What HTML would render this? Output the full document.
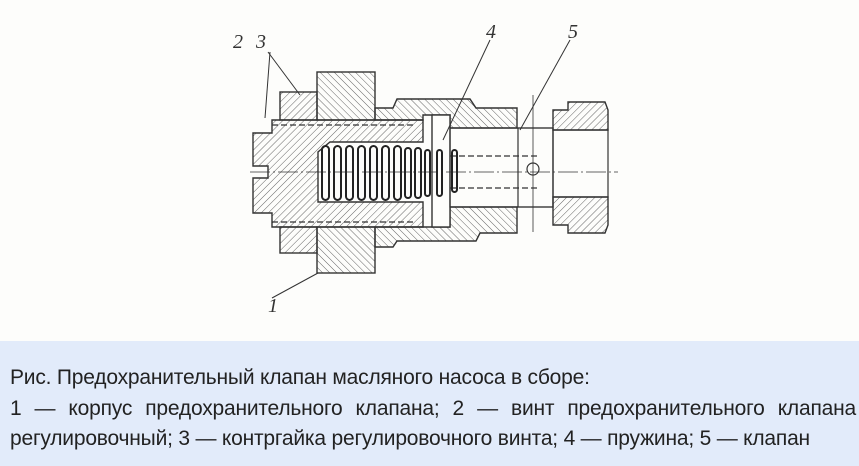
<!DOCTYPE html>
<html><head><meta charset="utf-8"><style>
html,body{margin:0;padding:0;width:859px;height:466px;overflow:hidden;background:#fdfdfb}
#fig{position:absolute;left:0;top:0}
#cap{position:absolute;left:0;top:341px;width:859px;height:125px;background:#e2ebfa;}
#cap p{margin:0;position:absolute;left:10px;font-family:"Liberation Sans",sans-serif;font-size:21px;color:#222;white-space:nowrap;line-height:24px;letter-spacing:-0.2px}
#l2{width:846px;text-align:justify;text-align-last:justify;white-space:normal!important}
</style></head><body>
<svg id="fig" width="859" height="341" viewBox="0 0 859 341">
<defs>
<pattern id="h" width="5" height="5" patternUnits="userSpaceOnUse" patternTransform="rotate(45)"><line x1="0" y1="0" x2="0" y2="5" stroke="#666" stroke-width="1"/></pattern>
<pattern id="h2" width="5" height="5" patternUnits="userSpaceOnUse" patternTransform="rotate(-45)"><line x1="0" y1="0" x2="0" y2="5" stroke="#666" stroke-width="1"/></pattern>
</defs>
<g stroke="#333" stroke-width="1.4" fill="url(#h)">
<rect x="280" y="92" width="37" height="28"/>
<rect x="280" y="227" width="37" height="26"/>
<rect x="317" y="72" width="58" height="48" fill="url(#h2)"/>
<rect x="317" y="227" width="58" height="46" fill="url(#h2)"/>
<path d="M375 108 L393 108 L397 99 L470 99 L476 108 L517 108 L517 128 L450 128 L450 115 L423 115 L423 120 L375 120Z" fill="url(#h2)"/>
<path d="M375 227 L423 227 L450 227 L450 207 L517 207 L517 233 L480 233 L476 241 L397 241 L393 247 L375 247Z" fill="url(#h2)"/>
<path d="M553 110 L568 110 L568 102 L605 102 L608 110 L608 130 L553 130Z" fill="url(#h)"/>
<path d="M553 197 L608 197 L608 225 L605 233 L568 233 L568 225 L553 225Z" fill="url(#h)"/>
<path d="M253 133 L272 133 L272 120 L423 120 L423 142 L330 142 L318 152 L318 202 L423 202 L423 227 L272 227 L272 213 L253 213 L253 178 L268 178 L268 166 L253 166Z" fill="url(#h)"/>
<rect x="432" y="115" width="18" height="112" fill="#fdfdfb"/>
</g>
<g stroke="#333" stroke-width="1.2" fill="none">
<rect x="450" y="128" width="103" height="79"/>
<rect x="518" y="128" width="35" height="79"/>
<rect x="553" y="130" width="55" height="67"/>
<line x1="272" y1="125" x2="415" y2="125" stroke-dasharray="6 3"/>
<line x1="272" y1="222" x2="415" y2="222" stroke-dasharray="6 3"/>
<line x1="450" y1="156" x2="540" y2="156" stroke-dasharray="6 3"/>
<line x1="450" y1="188" x2="540" y2="188" stroke-dasharray="6 3"/>
<line x1="250" y1="172" x2="618" y2="172" stroke-width="0.8" stroke-dasharray="20 3 2 3"/>
<line x1="533" y1="95" x2="533" y2="232" stroke-width="0.8"/>
<circle cx="533" cy="169" r="6"/>
<line x1="270" y1="52" x2="265" y2="118" stroke-width="1"/>
<line x1="268" y1="52" x2="300" y2="95" stroke-width="1"/>
<line x1="490" y1="40" x2="443" y2="140" stroke-width="1"/>
<line x1="570" y1="40" x2="520" y2="130" stroke-width="1"/>
<line x1="272" y1="298" x2="318" y2="273" stroke-width="1"/>
</g>
<g stroke="#222" stroke-width="2" fill="none">
<rect x="322" y="146" width="7" height="54" rx="3.5"/><rect x="334" y="146" width="7" height="54" rx="3.5"/>
<rect x="346" y="146" width="7" height="54" rx="3.5"/><rect x="358" y="146" width="7" height="54" rx="3.5"/>
<rect x="370" y="146" width="7" height="54" rx="3.5"/><rect x="382" y="146" width="7" height="54" rx="3.5"/>
<rect x="394" y="146" width="7" height="54" rx="3.5"/><rect x="405" y="148" width="6" height="50" rx="3"/>
<rect x="415" y="148" width="6" height="50" rx="3"/><rect x="425" y="150" width="5" height="46" rx="2.5"/>
<rect x="437" y="150" width="5" height="46" rx="2.5"/><rect x="452" y="150" width="5" height="42" rx="2.5"/>
</g>
<g font-family="Liberation Serif,serif" font-style="italic" font-size="20" fill="#333">
<text x="233" y="48">2</text><text x="256" y="48">3</text>
<text x="486" y="38">4</text><text x="568" y="38">5</text>
<text x="268" y="312">1</text>
</g>
</svg>
<div id="cap">
<p style="top:25px">Рис. Предохранительный клапан масляного насоса в сборе:</p>
<p id="l2" style="top:56px">1 — корпус предохранительного клапана; 2 — винт предохранительного клапана</p>
<p style="top:86px">регулировочный; 3 — контргайка регулировочного винта; 4 — пружина; 5 — клапан</p>
</div>
</body></html>
